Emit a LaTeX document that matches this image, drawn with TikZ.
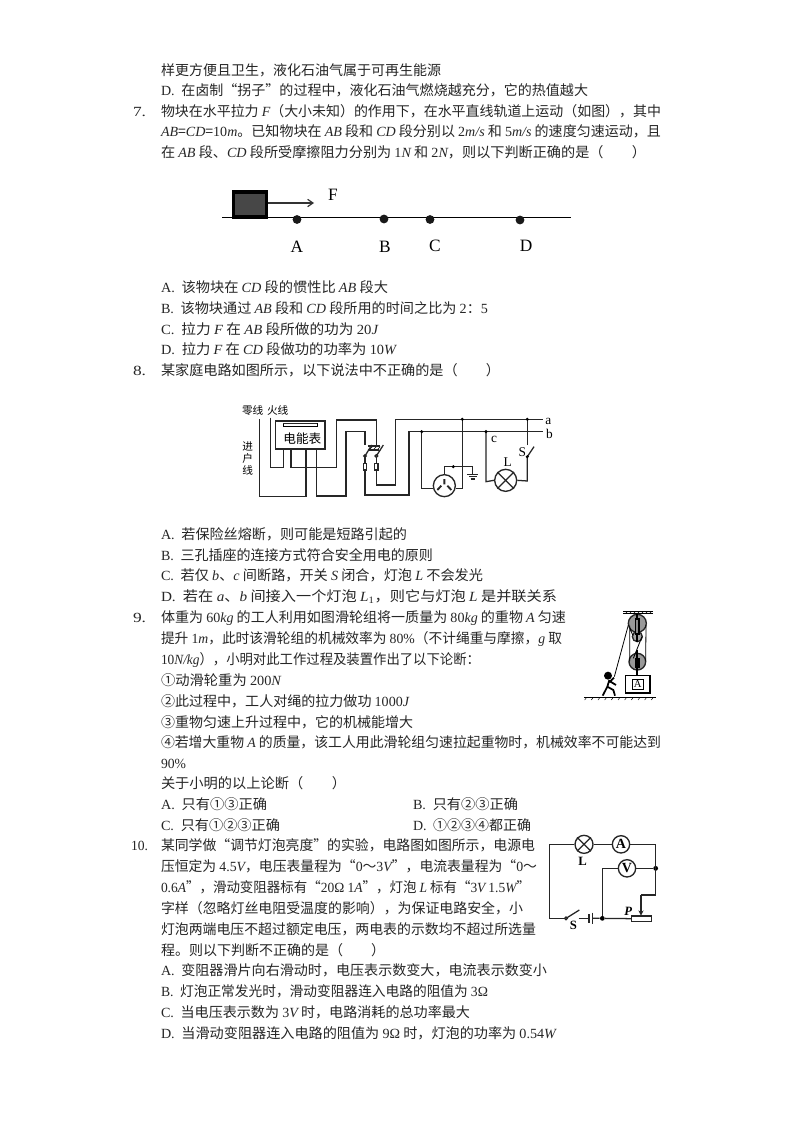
\documentclass[tikz,border=0pt]{standalone}
\usepackage{fontspec}
\usepackage{graphicx}
\usetikzlibrary{arrows.meta,patterns}
\setmainfont{Noto Sans CJK SC}
\newfontfamily\enf{Liberation Serif}
\newcommand\en[1]{{\enf #1}}
\newcommand\ei[1]{{\enf\itshape #1}}
\newcommand\tl[5]{%
  \pgfmathsetlengthmacro\tlw{(#4-#2)*0.75pt}%
  \node[txt,name=#1] at (#2,#3) {\resizebox{\tlw}{\height}{#5}};}
\tikzset{
  txt/.style={anchor=base west,inner sep=0pt,outer sep=0pt,font=\fontsize{10.5pt}{12pt}\selectfont,text=black!85},
  lab/.style={inner sep=0pt,font=\enf\fontsize{13pt}{14pt}\selectfont},
  wire/.style={draw=black!85,line width=0.95pt,line join=miter},
  jct/.style={circle,fill=black,inner sep=0pt,minimum size=3.6pt},
  dotn/.style={circle,fill=black!90,inner sep=0pt,minimum size=6.6pt},
  ring/.style={circle,draw=black!85,line width=1pt,inner sep=0pt,fill=white},
  cjks/.style={inner sep=0pt,font=\fontsize{8pt}{9pt}\selectfont},
}
\begin{document}
\begin{tikzpicture}[x=0.75pt,y=-0.75pt]
\useasboundingbox (0,0) rectangle (794,1123);
\fill[white] (0,0) rectangle (794,1123);

% page text
\tl{a1}{161}{76}{441}{样更方便且卫生，液化石油气属于可再生能源}
\tl{a2}{161}{96}{588}{\en{D.}\hspace{5pt}在卤制“拐子”的过程中，液化石油气燃烧越充分，它的热值越大}
\tl{q7n}{133}{117}{146}{\en{7.}}
\tl{q7a}{161}{117}{661}{物块在水平拉力 \ei{F}（大小未知）的作用下，在水平直线轨道上运动（如图），其中}
\tl{q7b}{161}{137}{661}{\ei{AB}=\ei{CD}=\en{10}\ei{m}。已知物块在 \ei{AB} 段和 \ei{CD} 段分别以 \en{2}\ei{m/s} 和 \en{5}\ei{m/s} 的速度匀速运动，且}
\tl{q7c}{161}{158}{646}{在 \ei{AB} 段、\ei{CD} 段所受摩擦阻力分别为 \en{1}\ei{N} 和 \en{2}\ei{N}，则以下判断正确的是（\hspace{21pt}）}
\tl{q7A}{161}{292}{388}{\en{A.}\hspace{5pt}该物块在 \ei{CD} 段的惯性比 \ei{AB} 段大}
\tl{q7B}{161}{313}{488}{\en{B.}\hspace{5pt}该物块通过 \ei{AB} 段和 \ei{CD} 段所用的时间之比为 \en{2}：\en{5}}
\tl{q7C}{161}{334}{378}{\en{C.}\hspace{5pt}拉力 \ei{F} 在 \ei{AB} 段所做的功为 \en{20}\ei{J}}
\tl{q7D}{161}{354}{396}{\en{D.}\hspace{5pt}拉力 \ei{F} 在 \ei{CD} 段做功的功率为 \en{10}\ei{W}}
\tl{q8n}{133}{375}{146}{\en{8.}}
\tl{q8a}{161}{375}{500}{某家庭电路如图所示，以下说法中不正确的是（\hspace{21pt}）}
\tl{q8A}{161}{539}{407}{\en{A.}\hspace{5pt}若保险丝熔断，则可能是短路引起的}
\tl{q8B}{161}{560}{433}{\en{B.}\hspace{5pt}三孔插座的连接方式符合安全用电的原则}
\tl{q8C}{161}{580}{483}{\en{C.}\hspace{5pt}若仅 \ei{b}、\ei{c} 间断路，开关 \ei{S} 闭合，灯泡 \ei{L} 不会发光}
\tl{q8D}{161}{601}{557}{\en{D.}\hspace{5pt}若在 \ei{a}、\ei{b} 间接入一个灯泡 \ei{L}\textsubscript{\en{1}}，则它与灯泡 \ei{L} 是并联关系}
\tl{q9n}{133}{622}{146}{\en{9.}}
\tl{q9a}{161}{622}{566}{体重为 \en{60}\ei{kg} 的工人利用如图滑轮组将一质量为 \en{80}\ei{kg} 的重物 \ei{A} 匀速}
\tl{q9b}{161}{643}{562}{提升 \en{1}\ei{m}，此时该滑轮组的机械效率为 \en{80\%}（不计绳重与摩擦，\ei{g} 取}
\tl{q9c}{161}{664}{480}{\en{10}\ei{N/kg}），小明对此工作过程及装置作出了以下论断：}
\tl{q9d}{161}{685}{281}{①动滑轮重为 \en{200}\ei{N}}
\tl{q9e}{161}{706}{409}{②此过程中，工人对绳的拉力做功 \en{1000}\ei{J}}
\tl{q9f}{161}{727}{413}{③重物匀速上升过程中，它的机械能增大}
\tl{q9g}{161}{747}{661}{④若增大重物 \ei{A} 的质量，该工人用此滑轮组匀速拉起重物时，机械效率不可能达到}
\tl{q9h}{161}{768}{186}{\en{90\%}}
\tl{q9i}{161}{788}{346}{关于小明的以上论断（\hspace{21pt}）}
\tl{q9A}{161}{809}{267}{\en{A.}\hspace{5pt}只有①③正确}
\tl{q9B}{413}{809}{518}{\en{B.}\hspace{5pt}只有②③正确}
\tl{q9C}{161}{830}{280}{\en{C.}\hspace{5pt}只有①②③正确}
\tl{q9D}{413}{830}{531}{\en{D.}\hspace{5pt}①②③④都正确}
\tl{q10n}{131}{850}{148}{\en{10.}}
\tl{q10a}{161}{850}{535}{某同学做“调节灯泡亮度”的实验，电路图如图所示，电源电}
\tl{q10b}{161}{871}{537}{压恒定为 \en{4.5}\ei{V}，电压表量程为“\en{0}～\en{3}\ei{V}”，电流表量程为“\en{0}～}
\tl{q10c}{161}{892}{530}{\en{0.6}\ei{A}”，滑动变阻器标有“\en{20Ω 1}\ei{A}”，灯泡 \ei{L} 标有“\en{3}\ei{V} \en{1.5}\ei{W}”}
\tl{q10d}{161}{913}{523}{字样（忽略灯丝电阻受温度的影响），为保证电路安全，小}
\tl{q10e}{161}{934}{536}{灯泡两端电压不超过额定电压，两电表的示数均不超过所选量}
\tl{q10f}{161}{955}{385}{程。则以下判断不正确的是（\hspace{21pt}）}
\tl{q10A}{161}{975}{547}{\en{A.}\hspace{5pt}变阻器滑片向右滑动时，电压表示数变大，电流表示数变小}
\tl{q10B}{161}{996}{488}{\en{B.}\hspace{5pt}灯泡正常发光时，滑动变阻器连入电路的阻值为 \en{3Ω}}
\tl{q10C}{161}{1017}{470}{\en{C.}\hspace{5pt}当电压表示数为 \en{3}\ei{V} 时，电路消耗的总功率最大}
\tl{q10D}{161}{1038}{556}{\en{D.}\hspace{5pt}当滑动变阻器连入电路的阻值为 \en{9Ω} 时，灯泡的功率为 \en{0.54}\ei{W}}

% figure of question 7
\coordinate (railL) at (222,217.5);
\coordinate (railR) at (571,217.5);
\draw[line width=0.9pt,black] (railL) -- (railR);
\node[draw=black,line width=2.6pt,fill=black!72,minimum width=25pt,minimum height=18.5pt,inner sep=0pt] (blk) at (250,204.5) {};
\coordinate (arrEnd) at (314,203);
\draw[line width=0.9pt,black!80,-{Straight Barb[length=4pt,width=5.5pt]}] (blk.east |- arrEnd) -- (arrEnd);
\node[dotn] (ptA) at (297,219.5) {};
\node[dotn] (ptB) at (384,219) {};
\node[dotn] (ptC) at (430,219.5) {};
\node[dotn] (ptD) at (520,220) {};
\node[lab] (lF) at (333,195) {F};
\node[lab] (lA) at (297,247) {A};
\node[lab] (lB) at (385,247) {B};
\node[lab] (lC) at (435,246) {C};
\node[lab] (lD) at (526,246) {D};

% figure of question 8
\begin{scope}[shift={(230,395)},x=0.25pt,y=-0.25pt]
\node[cjks] (zero) at (68,47) {零线};
\node[cjks] (fire) at (143,47) {火线};
\node[cjks] (jin) at (53,155) {进};
\node[cjks] (hu) at (53,190) {户};
\node[cjks] (xian) at (53,225) {线};
\node[wire,minimum width=37pt,minimum height=21pt,inner sep=0pt] (meter) at (211,120) {};
\node[font=\fontsize{9.5pt}{10pt}\selectfont,inner sep=0pt] (mtxt) at (217,132) {电能表};
\draw[line width=0.5pt] (160,85) rectangle (262,95);
\fill[black!85] (160,83) rectangle (262,88);
\coordinate (sl) at (405,150); \coordinate (sr) at (440,150);
\coordinate (pl) at (405,183); \coordinate (pr) at (439,183);
\node[wire,minimum width=2.5pt,minimum height=5pt,inner sep=0pt] (ful) at (405,215) {};
\node[wire,minimum width=2.5pt,minimum height=5pt,inner sep=0pt] (fur) at (439,215) {};
\node[ring,minimum size=16.5pt] (socket) at (643,272) {};
\node[ring,minimum size=16.5pt] (lamp8) at (827,256) {};
\draw[wire] (lamp8.45) -- (lamp8.225) (lamp8.135) -- (lamp8.315);
\draw[line width=1.4pt,black!85] (643,252) -- (643,268) (622,285) -- (634,272) (664,285) -- (652,272);
\coordinate (A) at (940,73); \coordinate (B) at (940,110);
\coordinate (j1) at (697,73); \coordinate (j2) at (892,73);
\coordinate (j3) at (575,110); \coordinate (j4) at (768,110);
\draw[wire] (88,72) -- (88,305) -- (228,305) -- (228,162);
\draw[wire] (122,68) -- (122,218) -- (160,218) -- (160,162);
\draw[wire] (183,162) -- (183,218) -- (320,218) -- (320,75) -- (440,75) -- (sr);
\draw[wire] (260,162) -- (260,303) -- (348,303) -- (348,110) -- (405,110) -- (sl);
\draw[wire] (ful.south) -- (405,300) -- (537,300) -- (537,110) -- (B);
\draw[wire] (fur.south) -- (439,270) -- (497,270) -- (497,73) -- (A);
\draw[wire] (pl) -- (ful.north) (pr) -- (fur.north);
\draw[wire] (pl) -- (425,150) (pr) -- (460,150);
\fill[pattern=north east lines,pattern color=black] (415,153) rectangle (450,165);
\draw[wire] (415,153) -- (450,153) (413,165)--(448,165);
\draw[wire,fill=white] (pl) circle (4) (pr) circle (4);
\draw[wire] (j3) -- (575,280) -- (socket.west |- 0,280);
\draw[wire] (j1) -- (697,280) -- (socket.east |- 0,280);
\draw[wire] (socket.north) -- (643,215) -- (728,215) -- (728,238);
\draw[wire] (712,238) -- (745,238) (717,245) -- (740,245) (722,252) -- (735,252);
\draw[wire] (j4) -- (768,260) -- (lamp8.west);
\draw[wire] (lamp8.east) -- (892,258) -- (892,185) -- (912,155);
\draw[wire] (892,150) -- (j2);
\foreach \p in {j1,j2,j3,j4}{\node[jct,minimum size=2.6pt] at (\p) {};}
\node[jct,minimum size=2.6pt] (jg) at (670,215) {};
\node[jct,minimum size=2.6pt] (js) at (892,185) {};
\node[lab,font=\enf\fontsize{10pt}{10pt}\selectfont] (la) at (955,78) {a};
\node[lab,font=\enf\fontsize{10pt}{10pt}\selectfont] (lb) at (958,118) {b};
\node[lab,font=\enf\fontsize{10pt}{10pt}\selectfont] (lc) at (792,133) {c};
\node[lab,font=\enf\fontsize{10pt}{10pt}\selectfont] (lS) at (877,172) {S};
\node[lab,font=\enf\fontsize{10pt}{10pt}\selectfont] (lL) at (833,200) {L};
\end{scope}

% figure of question 9
\begin{scope}[shift={(580,605)},x=0.25pt,y=-0.25pt]
\fill[pattern=north east lines,pattern color=black] (130,18) rectangle (218,25);
\draw[line width=0.6pt] (130,25) -- (218,25) (130,18) -- (218,18);
\node[ring,minimum size=13.5pt,fill=black!40] (up) at (172,55) {};
\node[ring,minimum size=7.5pt,fill=black!35] (usm) at (172,95) {};
\node[ring,minimum size=12.5pt,fill=black!40] (low) at (172,170) {};
\node[draw=black,line width=0.9pt,fill=white,minimum width=18.5pt,minimum height=13pt,inner sep=0pt] (box) at (173,238) {};
\node[draw=black,line width=0.7pt,minimum width=8pt,minimum height=8pt,inner sep=0pt,font=\enf\fontsize{8pt}{8pt}\selectfont] (boxA) at (173,238) {A};
\draw[line width=1.6pt] (172,25) -- (172,112) (172,135) -- (172,212);
\fill[black] (164,38) rectangle (180,90);
\fill[black] (164,158) rectangle (180,190);
\fill[black!45] (169,46) rectangle (175,84);
\draw[line width=0.6pt] (145,60) -- (103,215);
\draw[line width=0.6pt] (149,62) -- (149,168) (198,60) -- (197,168) (186,95) -- (160,160) (158,90) -- (150,70);
% ground
\draw[line width=0.8pt] (12,277) -- (228,277);
\foreach \x in {20,40,...,220}{\draw[line width=0.35pt] (\x,277) -- (\x-6,285);}
% worker
\fill[black] (84,212) circle (12);
\draw[line width=1.3pt] (88,225) -- (82,245) -- (68,272) (82,245) -- (100,255) -- (105,272) (88,228) -- (108,240) (88,232) -- (102,218);
\end{scope}

% figure of question 10
\begin{scope}[shift={(540,830)},x=0.25pt,y=-0.25pt]
\node[ring,minimum size=13.5pt] (lamp) at (132,43) {};
\draw[wire] (lamp.45) -- (lamp.225) (lamp.135) -- (lamp.315);
\node[ring,minimum size=13pt,font=\enf\bfseries\fontsize{10.5pt}{10pt}\selectfont] (amm) at (243,43) {A};
\node[ring,minimum size=13pt,font=\enf\bfseries\fontsize{10.5pt}{10pt}\selectfont] (vol) at (261,115) {V};
\node[wire,minimum width=15pt,minimum height=4pt,inner sep=0pt] (rh) at (305,266) {};
\node[jct] (j10a) at (347,115) {};
\node[jct] (j10b) at (187,265) {};
\coordinate (sw) at (78,265);
\coordinate (swe) at (118,240);
\coordinate (bt1) at (147,265);
\coordinate (bt2) at (158,265);
\draw[wire] (lamp.west) -- (28,43) -- (28,265) -- (sw);
\draw[wire] (lamp.east) -- (amm.west);
\draw[wire] (amm.east) -- (347,43) -- (347,195) -- (303,195);
\draw[wire,-{Stealth[length=4pt,width=4pt]}] (303,195) -- (303,257);
\draw[wire] (vol.east) -- (j10a);
\draw[wire] (vol.west) -- (187,115) -- (j10b);
\draw[wire] (sw) -- (swe);
\draw[wire] (116,265) -- (bt1);
\draw[wire] (147,252) -- (147,278);
\draw[wire] (158,248) -- (158,282);
\draw[wire] (bt2) -- (j10b) -- (rh.west);
\draw[wire,fill=white] (sw) circle (4);
\node[lab,font=\enf\bfseries\fontsize{9.5pt}{9pt}\selectfont] (l10L) at (128,95) {L};
\node[lab,font=\enf\bfseries\fontsize{9.5pt}{9pt}\selectfont] (l10S) at (100,287) {S};
\node[lab,font=\enf\bfseries\itshape\fontsize{9.5pt}{9pt}\selectfont] (l10P) at (265,245) {P};
\end{scope}
\end{tikzpicture}
\end{document}
